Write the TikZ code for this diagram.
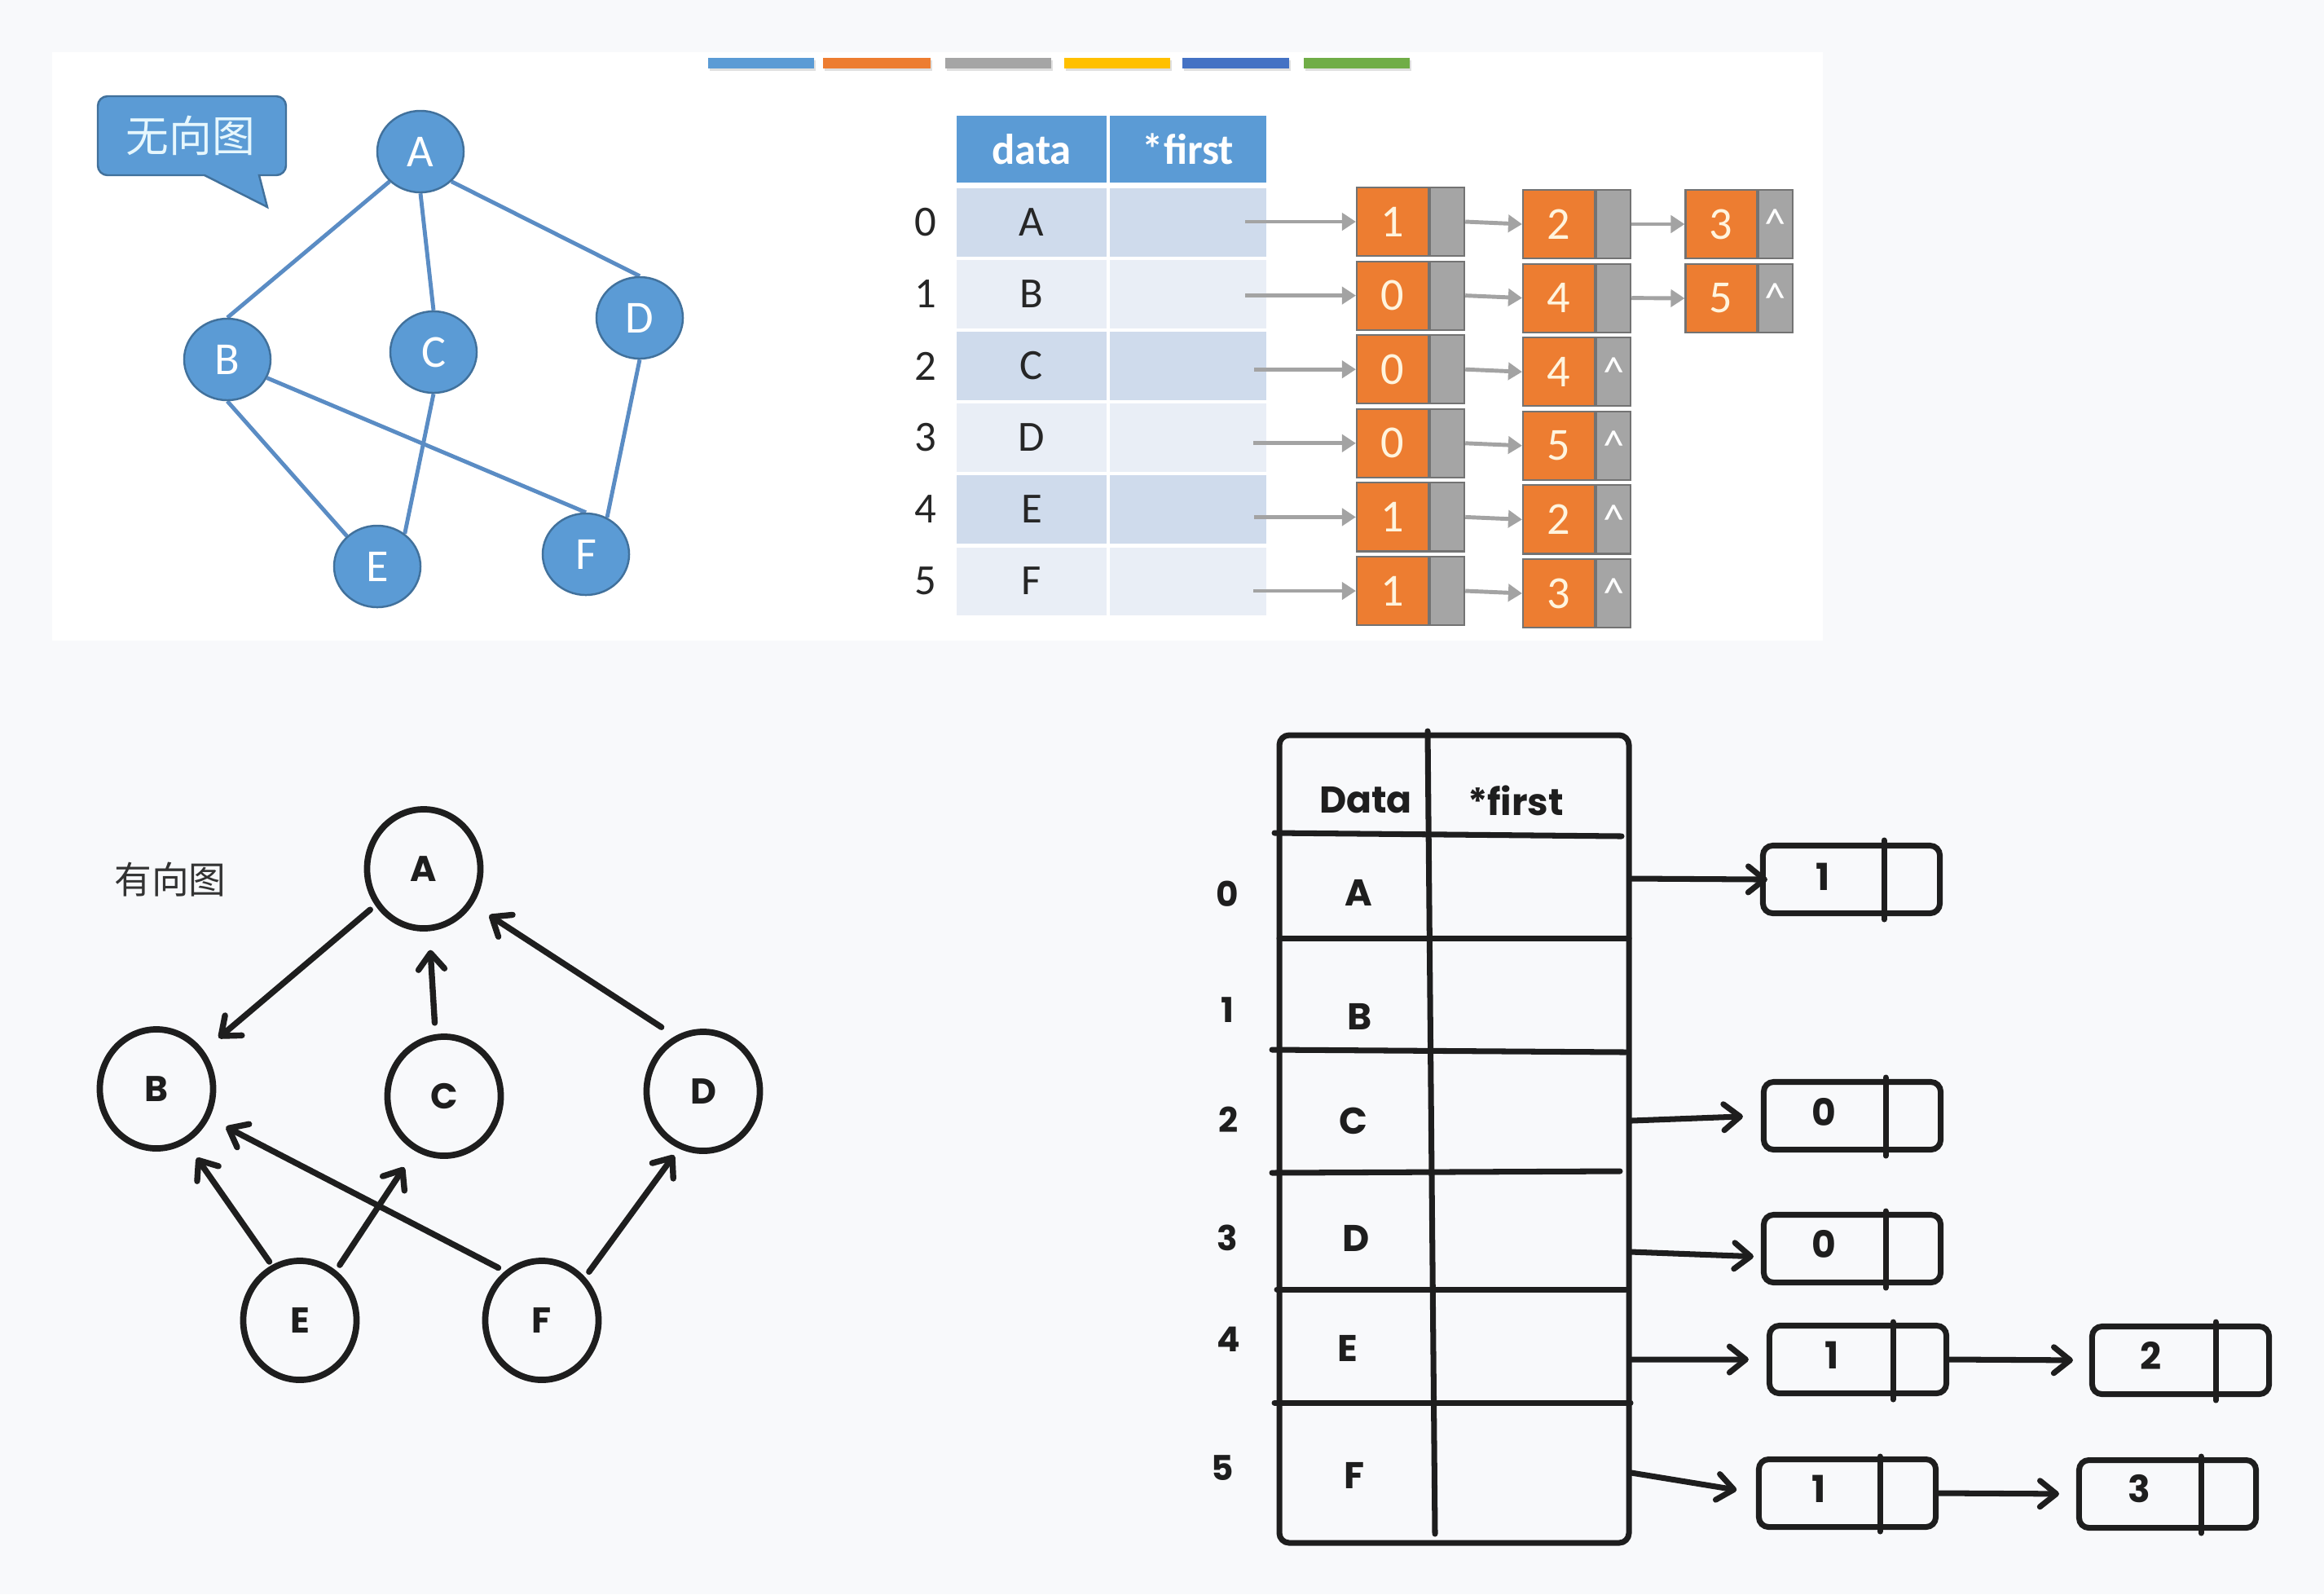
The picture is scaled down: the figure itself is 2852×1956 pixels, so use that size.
\documentclass[tikz,border=0pt]{standalone}
\usepackage{fontspec}
\setmainfont{Carlito}
\newfontfamily\cjk{Noto Sans CJK SC}
\newfontfamily\hand{Poppins}
\usetikzlibrary{arrows.meta,shapes.geometric,calc}
\pgfdeclarelayer{bg}
\pgfdeclarelayer{edges}
\pgfsetlayers{bg,edges,main}
\newcommand\mycaret{\textasciicircum}
\definecolor{pagebg}{HTML}{F8F9FB}
\definecolor{nodeblue}{HTML}{5B9BD5}
\definecolor{nodeborder}{HTML}{41719C}
\definecolor{edgeblue}{HTML}{5A8CC4}
\definecolor{rowdark}{HTML}{CFDBEC}
\definecolor{rowlight}{HTML}{E9EEF6}
\definecolor{orangeC}{HTML}{ED7D31}
\definecolor{orangetext}{HTML}{FFF4DE}
\definecolor{grayC}{HTML}{A5A5A5}
\definecolor{boxborder}{HTML}{737373}
\definecolor{arrowgray}{HTML}{A3A3A3}
\definecolor{ink}{HTML}{1E1E1E}
\definecolor{textdark}{HTML}{262626}
\definecolor{barblue}{HTML}{5B9BD5}
\definecolor{barorange}{HTML}{ED7D31}
\definecolor{bargray}{HTML}{A5A5A5}
\definecolor{baryellow}{HTML}{FFC000}
\definecolor{bardblue}{HTML}{4472C4}
\definecolor{bargreen}{HTML}{70AD47}
\begin{document}
\begin{tikzpicture}[x=0.01cm,y=-0.01cm,
  ugnode/.style={ellipse, fill=nodeblue, draw=nodeborder, line width=0.7pt, minimum width=1.06cm, minimum height=1.0cm, inner sep=0pt, text=white, font=\fontsize{16}{16}\selectfont},
  ugedge/.style={draw=edgeblue, line width=1.4pt},
  hdr/.style={rectangle, fill=nodeblue, inner sep=0pt, minimum height=0.82cm, text=white, font=\fontsize{15}{15}\selectfont\bfseries},
  cell/.style={rectangle, inner sep=0pt, minimum height=0.83cm, text=textdark, font=\fontsize{15}{15}\selectfont},
  idx/.style={inner sep=0pt, text=textdark, font=\fontsize{15}{15}\selectfont},
  lnum/.style={rectangle, fill=orangeC, draw=boxborder, line width=0.6pt, minimum width=0.88cm, minimum height=0.84cm, inner sep=0pt, text=orangetext, font=\fontsize{16}{16}\selectfont},
  lptr/.style={rectangle, fill=grayC, draw=boxborder, line width=0.6pt, minimum width=0.42cm, minimum height=0.84cm, inner sep=0pt, text=white, font=\fontsize{15}{15}\selectfont},
  garrow/.style={draw=arrowgray, line width=1.4pt, -{Triangle[length=0.17cm,width=0.21cm]}},
  dgnode/.style={ellipse, draw=ink, line width=2.2pt, minimum width=1.39cm, minimum height=1.46cm, inner sep=0pt, text=ink, font=\hand\bfseries\fontsize{12.5}{12.5}\selectfont},
  darrow/.style={draw=ink, line width=2.1pt, line cap=round, -{Straight Barb[length=0.2cm,width=0.32cm,round]}},
  hand/.style={draw=ink, line width=2pt, line cap=round, line join=round},
  htxt/.style={inner sep=0pt, text=ink, font=\hand\bfseries\fontsize{13}{13}\selectfont},
  hbox/.style={draw=ink, line width=2pt, rounded corners=0.12cm, minimum width=2.17cm, minimum height=0.83cm, inner sep=0pt},
  cellbox/.style={rectangle, inner sep=0pt, minimum width=2.44cm}
]
\useasboundingbox (0,0) rectangle (2852,1956);
\begin{pgfonlayer}{bg}
\fill[pagebg] (0,0) rectangle (2852,1956);
\fill[white] (64,64) rectangle (2237,786);
\end{pgfonlayer}

% colour bars
\foreach \a/\b/\c in {869/999/barblue,1010/1142/barorange,1160/1290/bargray,1306/1436/baryellow,1451/1582/bardblue,1600/1730/bargreen}{
  \fill[black!12] (\a+2,74) rectangle (\b+2,87);
  \fill[\c] (\a,71) rectangle (\b,84);
}

% speech bubble
\draw[fill=nodeblue, draw=nodeborder, line width=0.7pt] (120,166) [rounded corners=0.12cm] -- (120,118) -- (351,118) -- (351,215) [sharp corners] -- (318,215) -- (328,254) -- (251,215) [rounded corners=0.12cm] -- (120,215) -- cycle;
\node[inner sep=0pt, text=white!90!cyan, font=\cjk\fontsize{15}{15}\selectfont] (ulabel) at (234,166) {无向图};

% undirected graph
\node[ugnode] (uA) at (516,186) {A};
\node[ugnode] (uB) at (279,441) {B};
\node[ugnode] (uC) at (532,432) {C};
\node[ugnode] (uD) at (785,390) {D};
\node[ugnode] (uE) at (463,695) {E};
\node[ugnode] (uF) at (719,680) {F};
\begin{pgfonlayer}{edges}
\draw[ugedge] (uA.224) -- (uB.north);
\draw[ugedge] (uA.south) -- (uC.north);
\draw[ugedge] (uA.-44) -- (uD.north);
\draw[ugedge] (uB.south) -- (uE.135);
\draw[ugedge] (uB.-25) -- (uF.north);
\draw[ugedge] (uC.south) -- (uE.50);
\draw[ugedge] (uD.south) -- (uF.60);
\end{pgfonlayer}

% top table
\node[hdr, minimum width=1.84cm] (hd) at (1266,183) {data};
\node[hdr, minimum width=1.92cm] (hf) at (1458,183) {*first};
\foreach \i/\L/\col in {0/A/rowdark,1/B/rowlight,2/C/rowdark,3/D/rowlight,4/E/rowdark,5/F/rowlight}{
  \pgfmathsetmacro\yy{273+88*\i}
  \node[cell, fill=\col, minimum width=1.84cm] (d\i) at (1266,\yy) {\L};
  \node[cell, fill=\col, minimum width=1.92cm] (f\i) at (1458,\yy) {};
  \node[idx] (ix\i) at (1136,\yy) {\i};
}

% top adjacency lists
\foreach \i/\p/\q/\c/\s in {0/1/2//0.70cm,1/0/4//0.70cm,2/0/4/\mycaret/0.81cm,3/0/5/\mycaret/0.80cm,4/1/2/\mycaret/0.81cm,5/1/3/\mycaret/0.80cm}{
  \pgfmathsetmacro\ya{272+90.6*\i}
  \pgfmathsetmacro\yb{275+90.6*\i}
  \node[lnum] (a\i) at (1709,\ya) {\p};
  \node[lptr, anchor=west] (a\i p) at (a\i.east) {};
  \node[lnum] (b\i) at (1913,\yb) {\q};
  \node[lptr, anchor=west] (b\i p) at (b\i.east) {\c};
  \draw[garrow, shorten <=\s] (f\i.center |- a\i.west) -- (a\i.west);
  \draw[garrow] (a\i p.east) -- (b\i.west);
}
\node[lnum, minimum width=0.87cm] (c0) at (2112,275) {3};
\node[lptr, anchor=west] (c0p) at (c0.east) {\mycaret};
\node[lnum, minimum width=0.87cm] (c1) at (2112,366) {5};
\node[lptr, anchor=west] (c1p) at (c1.east) {\mycaret};
\draw[garrow] (b0p.east) -- (c0.west);
\draw[garrow] (b1p.east) -- (c1.west);

% directed graph
\node[inner sep=0pt, text=black!80, font=\cjk\fontsize{13}{13}\selectfont] (dlabel) at (209,1079) {有向图};
\node[dgnode] (gA) at (520,1066) {A};
\node[dgnode] (gB) at (192,1336) {B};
\node[dgnode] (gC) at (545,1345) {C};
\node[dgnode] (gD) at (863,1339) {D};
\node[dgnode] (gE) at (368,1620) {E};
\node[dgnode] (gF) at (665,1620) {F};
\draw[darrow, shorten <=0.08cm, shorten >=0.24cm] (gA.217) -- (gB.39);
\draw[darrow, shorten <=0.14cm, shorten >=0.23cm] (gC.98) -- (gA.-85);
\draw[darrow, shorten <=0.20cm, shorten >=0.24cm] (gD.117) -- (gA.-36);
\draw[darrow, shorten <=0.05cm, shorten >=0.22cm] (gE.117) -- (gB.-61);
\draw[darrow, shorten <=0.08cm, shorten >=0.24cm] (gE.54) -- (gC.-118);
\draw[darrow, shorten <=0.09cm, shorten >=0.23cm] (gF.127) -- (gB.-29);
\draw[darrow, shorten <=0.08cm, shorten >=0.10cm] (gF.45) -- (gD.-113);

% hand-drawn table
\draw[hand, rounded corners=0.12cm] (1570,902) rectangle (1999,1893);
\draw[hand] (1564,1022) -- (1990,1026);
\draw[hand] (1570,1151) -- (1999,1151);
\draw[hand] (1561,1288) -- (1995,1291);
\draw[hand] (1561,1439) -- (1988,1437);
\draw[hand] (1567,1582) -- (1995,1582);
\draw[hand] (1564,1721) -- (2001,1721);
\draw[hand] (1752,897) -- (1761,1882);
\node[htxt] (hData) at (1676,982) {Data};
\node[htxt] (hFirst) at (1860,982) {*first};
\foreach \L/\x/\y in {A/1667/1095,B/1669/1247,C/1661/1375,D/1664/1519,E/1654/1654,F/1662/1810}{
  \node[htxt] (t\L) at (\x,\y) {\L};
}
\foreach \i/\x/\y in {0/1506/1097,1/1506/1239,2/1508/1374,3/1506/1519,4/1508/1643,5/1500/1801}{
  \node[htxt, font=\hand\bfseries\fontsize{12}{12}\selectfont] (k\i) at (\x,\y) {\i};
}
\node[cellbox, minimum height=1.27cm] (q0) at (1879,1088) {};
\node[cellbox, minimum height=1.48cm] (q2) at (1879,1364) {};
\node[cellbox, minimum height=1.44cm] (q3) at (1879,1510) {};
\node[cellbox, minimum height=1.39cm] (q4) at (1879,1651) {};
\node[cellbox, minimum height=1.72cm] (q5) at (1879,1807) {};

% hand-drawn list boxes
\node[hbox] (m0) at (2272,1079) {};
\node[hbox] (m2) at (2273,1369) {};
\node[hbox] (m3) at (2273,1532) {};
\node[hbox] (m4) at (2280,1668) {};
\node[hbox] (m4b) at (2676,1669) {};
\node[hbox] (m5) at (2267,1832) {};
\node[hbox] (m5b) at (2660,1833) {};
\draw[hand] (2312,1031) -- (2312,1128);
\draw[hand] (2314,1322) -- (2314,1418);
\draw[hand] (2314,1486) -- (2314,1580);
\draw[hand] (2323,1622) -- (2323,1717);
\draw[hand] (2719,1622) -- (2719,1718);
\draw[hand] (2307,1787) -- (2307,1879);
\draw[hand] (2701,1787) -- (2701,1881);
\node[htxt] (v0) at (2237,1076) {1};
\node[htxt] (v2) at (2238,1364) {0};
\node[htxt] (v3) at (2238,1526) {0};
\node[htxt] (v4) at (2248,1663) {1};
\node[htxt] (v4b) at (2640,1663) {2};
\node[htxt] (v5) at (2232,1827) {1};
\node[htxt] (v5b) at (2625,1827) {3};
\draw[darrow, line width=2pt, shorten >=-0.09cm] ([yshift=0.10cm]q0.east) -- (m0.west);
\draw[darrow, line width=2pt, shorten >=0.22cm] ([yshift=-0.11cm]q2.east) -- (m2.west);
\draw[darrow, line width=2pt, shorten >=0.09cm] ([yshift=-0.26cm]q3.east) -- ([yshift=-0.10cm]m3.west);
\draw[darrow, line width=2pt, shorten >=0.22cm] ([yshift=-0.17cm]q4.east) -- (m4.west);
\draw[darrow, line width=2pt, shorten >=0.24cm] (q5.east) -- (m5.west);
\draw[darrow, line width=2pt, shorten >=0.20cm] (m4.east) -- (m4b.west);
\draw[darrow, line width=2pt, shorten >=0.21cm] (m5.east) -- (m5b.west);
\end{tikzpicture}
\end{document}
